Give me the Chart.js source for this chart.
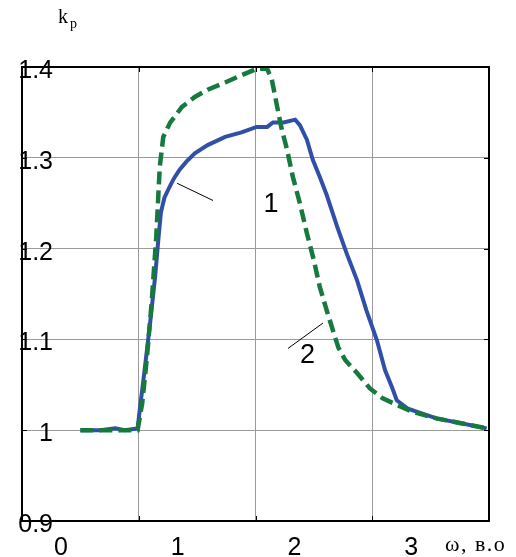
<!DOCTYPE html>
<html>
<head>
<meta charset="utf-8">
<script src="https://cdn.jsdelivr.net/npm/chart.js@4"></script>
<style>
  html, body { margin: 0; padding: 0; background: #fff; }
  #wrap { width: 516px; height: 557px; position: relative; }
</style>
</head>
<body>
<div id="wrap"><canvas id="c"></canvas></div>
<script>
// ---- data ----
const omega1 = [0.50,0.67,0.80,0.88,0.99,1.01,1.05,1.10,1.14,1.17,1.19,1.22,1.26,1.30,1.35,1.41,1.48,1.59,1.74,1.88,2.01,2.10,2.15,2.24,2.34,2.38,2.44,2.49,2.55,2.61,2.70,2.78,2.87,2.95,3.04,3.11,3.17,3.21,3.30,3.41,3.55,3.75,3.98];
const kp1    = [1.000,1.000,1.002,1.000,1.002,1.024,1.066,1.121,1.169,1.213,1.240,1.256,1.267,1.277,1.287,1.296,1.305,1.314,1.323,1.328,1.334,1.334,1.339,1.339,1.342,1.336,1.320,1.298,1.279,1.259,1.224,1.195,1.165,1.132,1.099,1.066,1.047,1.033,1.024,1.019,1.013,1.008,1.002];
const omega2 = [0.50,0.99,1.03,1.07,1.11,1.15,1.18,1.21,1.27,1.37,1.48,1.59,1.74,1.88,2.01,2.10,2.14,2.18,2.22,2.27,2.32,2.38,2.44,2.50,2.55,2.61,2.67,2.71,2.77,2.87,2.98,3.09,3.21,3.35,3.55,3.75,3.98];
const kp2    = [1.000,1.000,1.030,1.080,1.140,1.213,1.290,1.323,1.339,1.356,1.367,1.375,1.383,1.391,1.398,1.398,1.386,1.360,1.334,1.309,1.279,1.250,1.217,1.187,1.158,1.132,1.107,1.091,1.077,1.063,1.046,1.035,1.028,1.020,1.013,1.008,1.002];

const xTickValues = [0, 1, 2, 3];
const xTickLabels = ['0', '1', '2', '3'];
const yTickValues = [0.9, 1.0, 1.1, 1.2, 1.3, 1.4];
const yTickLabels = ['0.9', '1', '1.1', '1.2', '1.3', '1.4'];

const curveLabels = ['1', '2'];
const curveLabelAt = [[2.133, 1.240], [2.445, 1.074]];
const leaderFrom   = [[1.328, 1.272], [2.278, 1.090]];
const leaderTo     = [[1.636, 1.253], [2.578, 1.118]];

const xAxisLabel = 'ω, в.о';
const yAxisLabel = 'k';
const yAxisSub = 'p';

function pts(xs, ys) { return xs.map((x, i) => ({ x: x, y: ys[i] })); }

const overlay = {
  id: 'overlay',
  afterDraw(chart) {
    const ctx = chart.ctx;
    const xs = chart.scales.x, ys = chart.scales.y;
    const a = chart.chartArea;
    ctx.save();
    // frame
    ctx.strokeStyle = '#000';
    ctx.lineWidth = 2;
    ctx.strokeRect(a.left, a.top, a.right - a.left, a.bottom - a.top);
    // inward ticks
    ctx.lineWidth = 1;
    ctx.beginPath();
    for (let v = 0; v <= 4; v++) {
      const px = Math.round(xs.getPixelForValue(v)) + 0.5;
      ctx.moveTo(px, a.bottom); ctx.lineTo(px, a.bottom - 5);
      ctx.moveTo(px, a.top); ctx.lineTo(px, a.top + 5);
    }
    yTickValues.forEach(v => {
      const py = Math.round(ys.getPixelForValue(v)) + 0.5;
      ctx.moveTo(a.left, py); ctx.lineTo(a.left + 5, py);
      ctx.moveTo(a.right, py); ctx.lineTo(a.right - 5, py);
    });
    ctx.stroke();

    // tick labels
    ctx.fillStyle = '#000';
    ctx.font = '25px "Liberation Sans", Arial, sans-serif';
    ctx.textBaseline = 'alphabetic';
    ctx.textAlign = 'right';
    yTickValues.forEach((v, i) => {
      ctx.fillText(yTickLabels[i], 53, ys.getPixelForValue(v) + 11);
    });
    ctx.textAlign = 'center';
    xTickValues.forEach((v, i) => {
      ctx.fillText(xTickLabels[i], xs.getPixelForValue(v) + 39, 555);
    });

    // curve labels and leaders
    ctx.font = '27px "Liberation Sans", Arial, sans-serif';
    curveLabels.forEach((t, i) => {
      ctx.fillText(t, xs.getPixelForValue(curveLabelAt[i][0]), ys.getPixelForValue(curveLabelAt[i][1]));
    });
    ctx.lineWidth = 1;
    ctx.beginPath();
    leaderFrom.forEach((p, i) => {
      ctx.moveTo(xs.getPixelForValue(p[0]), ys.getPixelForValue(p[1]));
      ctx.lineTo(xs.getPixelForValue(leaderTo[i][0]), ys.getPixelForValue(leaderTo[i][1]));
    });
    ctx.stroke();

    // axis titles
    ctx.textAlign = 'left';
    ctx.font = '20px "Liberation Serif", "Times New Roman", serif';
    ctx.fillText(yAxisLabel, 58, 23);
    ctx.font = '14px "Liberation Serif", "Times New Roman", serif';
    ctx.fillText(yAxisSub, 70, 28);
    ctx.font = '22px "Liberation Serif", "Times New Roman", serif';
    ctx.letterSpacing = '1.5px';
    ctx.fillText(xAxisLabel, 445, 551);
    ctx.restore();
  }
};

new Chart(document.getElementById('c'), {
  type: 'line',
  data: {
    datasets: [
      {
        label: '2',
        data: pts(omega2, kp2),
        borderColor: '#167a3e',
        borderWidth: 4.5,
        borderDash: [13, 6],
        borderCapStyle: 'butt',
        pointRadius: 0,
        tension: 0,
        fill: false
      },
      {
        label: '1',
        data: pts(omega1, kp1),
        borderColor: '#2f4fa8',
        borderWidth: 4,
        pointRadius: 0,
        tension: 0,
        fill: false
      }
    ]
  },
  options: {
    responsive: true,
    maintainAspectRatio: false,
    animation: false,
    events: [],
    layout: { padding: { left: 22, top: 67, right: 27, bottom: 36 } },
    plugins: { legend: { display: false }, tooltip: { enabled: false } },
    scales: {
      x: {
        type: 'linear', min: 0, max: 4,
        ticks: { display: false, stepSize: 1 },
        grid: { color: '#9a9a9a', lineWidth: 1, drawTicks: false },
        border: { display: false }
      },
      y: {
        type: 'linear', min: 0.9, max: 1.4,
        ticks: { display: false, stepSize: 0.1 },
        grid: { color: '#9a9a9a', lineWidth: 1, drawTicks: false },
        border: { display: false }
      }
    }
  },
  plugins: [overlay]
});
</script>
</body>
</html>
